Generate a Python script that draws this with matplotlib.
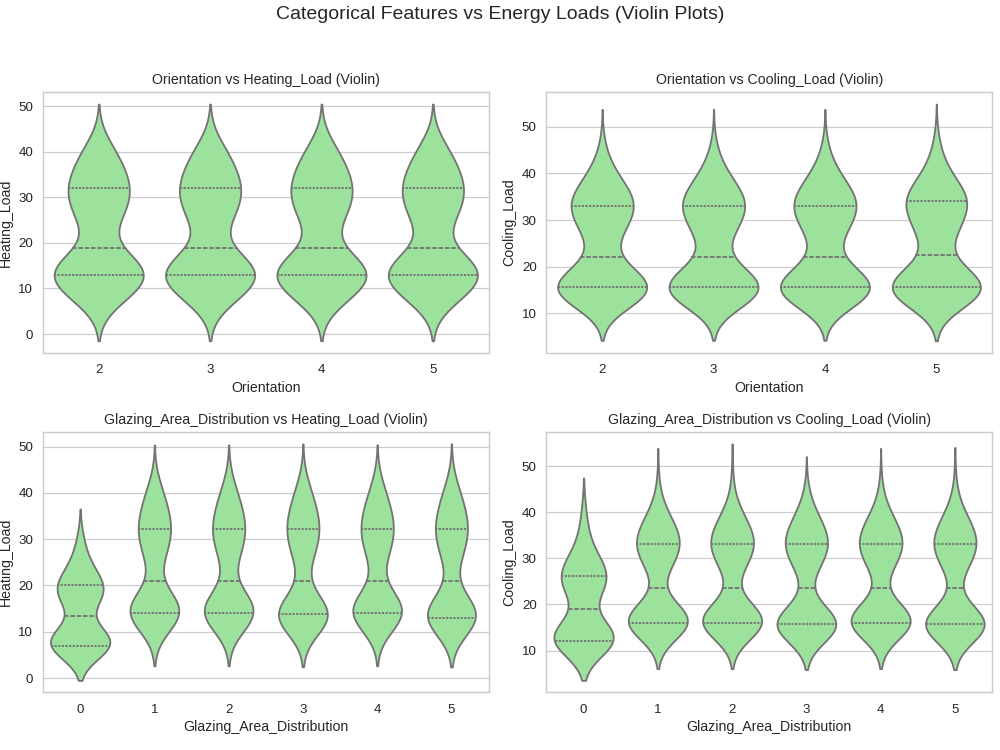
import numpy as np
import pandas as pd
import matplotlib
matplotlib.use("Agg")
import matplotlib.pyplot as plt
import seaborn as sns

heat_bins = list(range(6, 44))     # 6 .. 43
cool_bins = list(range(11, 49))    # 11 .. 48

orientations = [2, 3, 4, 5]
glazing_dist = [0, 1, 2, 3, 4, 5]

#                 6  7  8  9 10 11 12 13 14 15 16 17 18 19 20 21 22 23 24 25 26 27 28 29 30 31 32 33 34 35 36 37 38 39 40 41 42 43
heat_orient = [
    [4, 4, 5, 6, 8, 9, 10, 10, 11, 10, 8, 6, 5, 0, 1, 2, 2, 3, 3, 4, 4, 5, 5, 6, 6, 6, 6, 6, 5, 5, 5, 4, 4, 4, 3, 3, 2, 2],
    [4, 4, 5, 6, 8, 9, 10, 10, 11, 10, 8, 6, 5, 0, 1, 2, 2, 3, 3, 4, 4, 5, 5, 6, 6, 6, 6, 6, 5, 5, 5, 4, 4, 4, 3, 3, 2, 2],
    [4, 4, 5, 6, 8, 9, 10, 10, 11, 10, 8, 6, 5, 0, 1, 2, 2, 3, 3, 4, 4, 5, 5, 6, 6, 6, 6, 6, 5, 5, 5, 4, 4, 4, 3, 3, 2, 2],
    [4, 4, 5, 6, 8, 9, 10, 10, 11, 10, 8, 6, 5, 0, 1, 2, 2, 3, 3, 4, 4, 5, 5, 6, 6, 6, 6, 6, 5, 5, 5, 4, 4, 4, 3, 3, 2, 2],
]
heat_glazing = [
    [5, 8, 4, 3, 2, 2, 0, 0, 0, 0, 2, 3, 3, 3, 3, 2, 2, 1, 2, 0, 1, 0, 1, 0, 1, 0, 0, 0, 0, 0, 0, 0, 0, 0, 0, 0, 0, 0],
    [0, 0, 0, 0, 3, 5, 7, 10, 12, 11, 9, 7, 5, 3, 0, 0, 0, 2, 2, 2, 3, 3, 4, 4, 5, 6, 5, 5, 5, 4, 4, 4, 3, 3, 3, 2, 2, 1],
    [0, 0, 0, 0, 3, 5, 7, 10, 12, 11, 9, 7, 5, 3, 0, 0, 0, 2, 2, 2, 3, 3, 4, 4, 5, 6, 5, 5, 5, 4, 4, 4, 3, 3, 3, 2, 1, 2],
    [0, 0, 0, 0, 4, 6, 10, 16, 11, 9, 7, 5, 3, 1, 0, 0, 0, 2, 2, 2, 3, 3, 4, 4, 5, 6, 5, 5, 5, 4, 4, 4, 3, 3, 3, 2, 2, 1],
    [0, 0, 0, 0, 3, 5, 7, 10, 12, 11, 9, 7, 5, 3, 0, 0, 0, 2, 2, 2, 3, 3, 4, 4, 5, 6, 5, 5, 5, 4, 4, 4, 3, 3, 3, 2, 1, 2],
    [0, 0, 0, 0, 5, 8, 10, 14, 10, 9, 7, 5, 3, 1, 0, 0, 0, 2, 2, 2, 3, 3, 4, 4, 5, 6, 5, 5, 5, 4, 4, 4, 3, 3, 3, 2, 2, 1],
]

#                11 12 13 14 15 16 17 18 19 20 21 22 23 24 25 26 27 28 29 30 31 32 33 34 35 36 37 38 39 40 41 42 43 44 45 46 47 48
cool_orient = [
    [5, 7, 9, 12, 15, 12, 10, 9, 8, 5, 4, 0, 2, 2, 3, 3, 4, 5, 5, 6, 6, 7, 8, 8, 7, 6, 5, 4, 4, 3, 2, 2, 1, 1, 1, 0, 1, 0],
    [5, 7, 9, 12, 15, 12, 10, 9, 8, 5, 4, 0, 2, 2, 3, 3, 4, 5, 5, 6, 6, 7, 8, 8, 7, 6, 5, 4, 4, 3, 2, 2, 1, 1, 1, 0, 1, 0],
    [5, 7, 9, 12, 15, 12, 10, 9, 8, 5, 4, 0, 2, 2, 3, 3, 4, 5, 5, 6, 6, 7, 8, 8, 7, 6, 5, 4, 4, 3, 2, 2, 1, 1, 1, 0, 1, 0],
    [5, 7, 9, 12, 15, 12, 10, 9, 8, 5, 4, 0, 0, 4, 3, 3, 4, 5, 5, 6, 5, 6, 6, 10, 8, 6, 5, 4, 4, 3, 2, 2, 1, 1, 1, 1, 0, 1],
]
cool_glazing = [
    [4, 9, 4, 3, 2, 2, 0, 0, 0, 0, 0, 2, 2, 2, 3, 3, 2, 2, 2, 2, 0, 1, 0, 1, 0, 1, 0, 0, 0, 1, 0, 0, 0, 0, 0, 0, 0, 0],
    [0, 0, 4, 8, 12, 14, 12, 9, 7, 4, 2, 0, 0, 0, 0, 2, 3, 3, 4, 4, 5, 6, 9, 6, 6, 5, 4, 4, 3, 3, 2, 1, 0, 1, 0, 0, 1, 0],
    [0, 0, 4, 8, 12, 14, 12, 9, 7, 4, 2, 0, 0, 0, 0, 2, 3, 3, 4, 4, 5, 6, 9, 6, 6, 5, 4, 4, 3, 3, 2, 1, 0, 1, 0, 0, 0, 1],
    [0, 0, 6, 12, 18, 12, 9, 7, 5, 2, 1, 0, 0, 0, 0, 2, 3, 3, 4, 4, 5, 6, 9, 6, 6, 5, 4, 4, 3, 3, 2, 1, 0, 1, 1, 0, 0, 0],
    [0, 0, 4, 8, 12, 14, 12, 9, 7, 4, 2, 0, 0, 0, 0, 2, 3, 3, 4, 4, 5, 6, 9, 6, 6, 5, 4, 4, 3, 3, 2, 1, 0, 1, 0, 0, 1, 0],
    [0, 0, 6, 12, 18, 12, 9, 7, 5, 2, 1, 0, 0, 0, 0, 2, 3, 3, 4, 4, 5, 6, 9, 6, 6, 5, 4, 4, 3, 3, 2, 1, 0, 1, 0, 0, 1, 0],
]


def make_frame(cats, bins, counts, cat_name, load_name):
    rows = []
    for c, cnt in zip(cats, counts):
        vals = np.repeat(bins, cnt)
        rows.append(pd.DataFrame({cat_name: c, load_name: vals}))
    return pd.concat(rows, ignore_index=True)


sns.set_style("whitegrid")
plt.rcParams['font.family'] = ['Liberation Sans', 'DejaVu Sans']
plt.rcParams['grid.linewidth'] = 0.85
plt.rcParams['axes.linewidth'] = 1.05

fig, axes = plt.subplots(2, 2, figsize=(10, 7.5), dpi=100)
fig.subplots_adjust(left=0.043, right=0.992, top=0.877, bottom=0.077, wspace=0.13, hspace=0.304)

panels = [
    (axes[0, 0], orientations, heat_bins, heat_orient, "Orientation", "Heating_Load"),
    (axes[0, 1], orientations, cool_bins, cool_orient, "Orientation", "Cooling_Load"),
    (axes[1, 0], glazing_dist, heat_bins, heat_glazing, "Glazing_Area_Distribution", "Heating_Load"),
    (axes[1, 1], glazing_dist, cool_bins, cool_glazing, "Glazing_Area_Distribution", "Cooling_Load"),
]

for ax, cats, bins, counts, cname, lname in panels:
    df = make_frame(cats, bins, counts, cname, lname)
    sns.violinplot(x=cname, y=lname, data=df, color="lightgreen", inner="quartile",
                   linewidth=1.3, ax=ax)
    ax.set_title(f"{cname} vs {lname} (Violin)", fontsize=10.2)
    ax.set_xlabel(cname, fontsize=10.2, labelpad=3)
    ax.set_ylabel(lname, fontsize=10.2)
    ax.tick_params(labelsize=9.6)
    ax.tick_params(axis="x", pad=5)

fig.suptitle("Categorical Features vs Energy Loads (Violin Plots)", fontsize=14, y=0.992)
fig.savefig("out.png", dpi=100)
